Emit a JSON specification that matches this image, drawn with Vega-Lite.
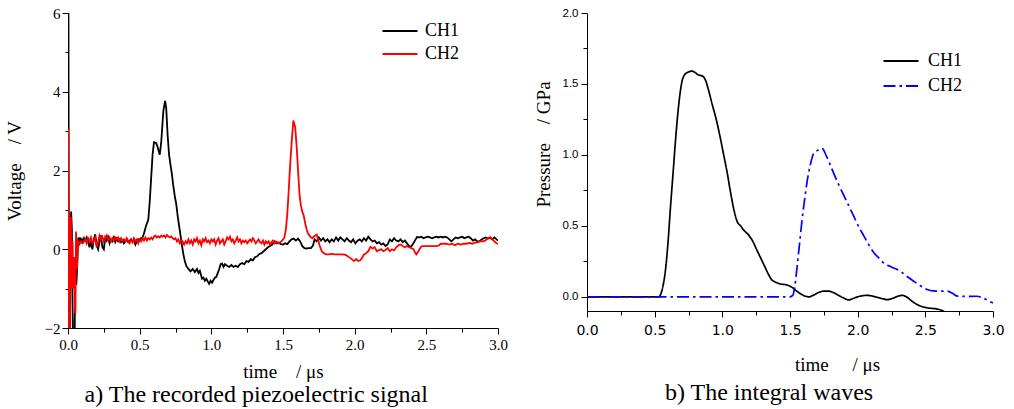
{
  "$schema": "https://vega.github.io/schema/vega-lite/v6.json",
  "padding": {"left": 5, "top": 6, "right": 2, "bottom": 0},
  "spacing": 26,
  "resolve": {"scale": {"color": "independent", "strokeDash": "independent"}, "legend": {"color": "independent", "strokeDash": "independent"}},
  "config": {
    "view": {"stroke": null},
    "font": "Liberation Serif",
    "axis": {"grid": false, "domainColor": "#000", "tickColor": "#000", "labelColor": "#000", "titleColor": "#000", "titleFontWeight": "normal", "domainWidth": 1, "tickWidth": 1}
  },
  "datasets": {
    "a": [
      {"t":0.000,"v":0.2,"ch":"CH1"},{"t":0.003,"v":6.5,"ch":"CH1"},{"t":0.007,"v":-2.5,"ch":"CH1"},{"t":0.012,"v":-2.5,"ch":"CH1"},{"t":0.016,"v":0.5,"ch":"CH1"},{"t":0.022,"v":0.96,"ch":"CH1"},{"t":0.027,"v":0.5,"ch":"CH1"},{"t":0.030,"v":-1.0,"ch":"CH1"},{"t":0.036,"v":-2.5,"ch":"CH1"},{"t":0.046,"v":-2.5,"ch":"CH1"},{"t":0.050,"v":-0.5,"ch":"CH1"},{"t":0.058,"v":-0.9,"ch":"CH1"},{"t":0.063,"v":-0.56,"ch":"CH1"},{"t":0.068,"v":0.0,"ch":"CH1"},{"t":0.072,"v":0.3,"ch":"CH1"},{"t":0.078,"v":0.1,"ch":"CH1"},{"t":0.083,"v":0.3,"ch":"CH1"},{"t":0.090,"v":0.2,"ch":"CH1"},{"t":0.097,"v":0.25,"ch":"CH1"},{"t":0.105,"v":0.15,"ch":"CH1"},{"t":0.112,"v":0.28,"ch":"CH1"},{"t":0.12,"v":0.22,"ch":"CH1"},{"t":0.13,"v":0.3,"ch":"CH1"},{"t":0.14,"v":0.2,"ch":"CH1"},{"t":0.15,"v":0.05,"ch":"CH1"},{"t":0.16,"v":0.2,"ch":"CH1"},{"t":0.17,"v":0.0,"ch":"CH1"},{"t":0.18,"v":0.25,"ch":"CH1"},{"t":0.19,"v":0.38,"ch":"CH1"},{"t":0.20,"v":0.1,"ch":"CH1"},{"t":0.21,"v":0.0,"ch":"CH1"},{"t":0.22,"v":0.2,"ch":"CH1"},{"t":0.23,"v":0.35,"ch":"CH1"},{"t":0.24,"v":0.05,"ch":"CH1"},{"t":0.25,"v":0.0,"ch":"CH1"},{"t":0.26,"v":0.3,"ch":"CH1"},{"t":0.27,"v":0.22,"ch":"CH1"},{"t":0.28,"v":0.35,"ch":"CH1"},{"t":0.29,"v":0.15,"ch":"CH1"},{"t":0.30,"v":0.25,"ch":"CH1"},{"t":0.31,"v":0.2,"ch":"CH1"},{"t":0.32,"v":0.3,"ch":"CH1"},{"t":0.33,"v":0.18,"ch":"CH1"},{"t":0.34,"v":0.27,"ch":"CH1"},{"t":0.35,"v":0.2,"ch":"CH1"},{"t":0.36,"v":0.25,"ch":"CH1"},{"t":0.37,"v":0.18,"ch":"CH1"},{"t":0.38,"v":0.22,"ch":"CH1"},{"t":0.39,"v":0.15,"ch":"CH1"},{"t":0.40,"v":0.2,"ch":"CH1"},{"t":0.41,"v":0.25,"ch":"CH1"},{"t":0.42,"v":0.18,"ch":"CH1"},{"t":0.43,"v":0.22,"ch":"CH1"},{"t":0.44,"v":0.25,"ch":"CH1"},{"t":0.45,"v":0.2,"ch":"CH1"},{"t":0.46,"v":0.22,"ch":"CH1"},{"t":0.47,"v":0.12,"ch":"CH1"},{"t":0.48,"v":0.2,"ch":"CH1"},{"t":0.49,"v":0.25,"ch":"CH1"},{"t":0.50,"v":0.22,"ch":"CH1"},{"t":0.51,"v":0.28,"ch":"CH1"},{"t":0.52,"v":0.3,"ch":"CH1"},{"t":0.53,"v":0.4,"ch":"CH1"},{"t":0.545,"v":0.6,"ch":"CH1"},{"t":0.56,"v":0.75,"ch":"CH1"},{"t":0.57,"v":1.2,"ch":"CH1"},{"t":0.58,"v":1.8,"ch":"CH1"},{"t":0.59,"v":2.4,"ch":"CH1"},{"t":0.60,"v":2.72,"ch":"CH1"},{"t":0.615,"v":2.7,"ch":"CH1"},{"t":0.625,"v":2.6,"ch":"CH1"},{"t":0.64,"v":2.4,"ch":"CH1"},{"t":0.65,"v":2.7,"ch":"CH1"},{"t":0.665,"v":3.5,"ch":"CH1"},{"t":0.677,"v":3.77,"ch":"CH1"},{"t":0.685,"v":3.6,"ch":"CH1"},{"t":0.695,"v":2.9,"ch":"CH1"},{"t":0.705,"v":2.4,"ch":"CH1"},{"t":0.715,"v":2.15,"ch":"CH1"},{"t":0.725,"v":1.9,"ch":"CH1"},{"t":0.735,"v":1.6,"ch":"CH1"},{"t":0.745,"v":1.35,"ch":"CH1"},{"t":0.755,"v":1.15,"ch":"CH1"},{"t":0.765,"v":0.85,"ch":"CH1"},{"t":0.775,"v":0.6,"ch":"CH1"},{"t":0.785,"v":0.35,"ch":"CH1"},{"t":0.795,"v":0.1,"ch":"CH1"},{"t":0.805,"v":-0.13,"ch":"CH1"},{"t":0.815,"v":-0.3,"ch":"CH1"},{"t":0.825,"v":-0.42,"ch":"CH1"},{"t":0.84,"v":-0.5,"ch":"CH1"},{"t":0.855,"v":-0.56,"ch":"CH1"},{"t":0.87,"v":-0.5,"ch":"CH1"},{"t":0.885,"v":-0.58,"ch":"CH1"},{"t":0.90,"v":-0.5,"ch":"CH1"},{"t":0.91,"v":-0.6,"ch":"CH1"},{"t":0.92,"v":-0.55,"ch":"CH1"},{"t":0.935,"v":-0.75,"ch":"CH1"},{"t":0.945,"v":-0.72,"ch":"CH1"},{"t":0.955,"v":-0.8,"ch":"CH1"},{"t":0.965,"v":-0.75,"ch":"CH1"},{"t":0.975,"v":-0.82,"ch":"CH1"},{"t":0.985,"v":-0.88,"ch":"CH1"},{"t":0.995,"v":-0.8,"ch":"CH1"},{"t":1.005,"v":-0.85,"ch":"CH1"},{"t":1.015,"v":-0.78,"ch":"CH1"},{"t":1.025,"v":-0.72,"ch":"CH1"},{"t":1.035,"v":-0.7,"ch":"CH1"},{"t":1.045,"v":-0.6,"ch":"CH1"},{"t":1.055,"v":-0.5,"ch":"CH1"},{"t":1.065,"v":-0.38,"ch":"CH1"},{"t":1.075,"v":-0.36,"ch":"CH1"},{"t":1.085,"v":-0.45,"ch":"CH1"},{"t":1.095,"v":-0.38,"ch":"CH1"},{"t":1.11,"v":-0.42,"ch":"CH1"},{"t":1.125,"v":-0.45,"ch":"CH1"},{"t":1.14,"v":-0.4,"ch":"CH1"},{"t":1.155,"v":-0.45,"ch":"CH1"},{"t":1.17,"v":-0.42,"ch":"CH1"},{"t":1.185,"v":-0.45,"ch":"CH1"},{"t":1.20,"v":-0.38,"ch":"CH1"},{"t":1.215,"v":-0.35,"ch":"CH1"},{"t":1.23,"v":-0.38,"ch":"CH1"},{"t":1.245,"v":-0.3,"ch":"CH1"},{"t":1.26,"v":-0.32,"ch":"CH1"},{"t":1.275,"v":-0.25,"ch":"CH1"},{"t":1.29,"v":-0.28,"ch":"CH1"},{"t":1.305,"v":-0.2,"ch":"CH1"},{"t":1.32,"v":-0.18,"ch":"CH1"},{"t":1.335,"v":-0.12,"ch":"CH1"},{"t":1.35,"v":-0.1,"ch":"CH1"},{"t":1.365,"v":-0.05,"ch":"CH1"},{"t":1.38,"v":0.0,"ch":"CH1"},{"t":1.395,"v":0.05,"ch":"CH1"},{"t":1.41,"v":0.08,"ch":"CH1"},{"t":1.425,"v":0.12,"ch":"CH1"},{"t":1.44,"v":0.2,"ch":"CH1"},{"t":1.455,"v":0.15,"ch":"CH1"},{"t":1.47,"v":0.17,"ch":"CH1"},{"t":1.485,"v":0.13,"ch":"CH1"},{"t":1.50,"v":0.12,"ch":"CH1"},{"t":1.515,"v":0.15,"ch":"CH1"},{"t":1.53,"v":0.13,"ch":"CH1"},{"t":1.545,"v":0.2,"ch":"CH1"},{"t":1.56,"v":0.25,"ch":"CH1"},{"t":1.575,"v":0.27,"ch":"CH1"},{"t":1.59,"v":0.22,"ch":"CH1"},{"t":1.605,"v":0.27,"ch":"CH1"},{"t":1.62,"v":0.2,"ch":"CH1"},{"t":1.635,"v":0.08,"ch":"CH1"},{"t":1.65,"v":0.03,"ch":"CH1"},{"t":1.665,"v":0.02,"ch":"CH1"},{"t":1.68,"v":0.03,"ch":"CH1"},{"t":1.695,"v":0.03,"ch":"CH1"},{"t":1.71,"v":0.1,"ch":"CH1"},{"t":1.72,"v":0.25,"ch":"CH1"},{"t":1.735,"v":0.2,"ch":"CH1"},{"t":1.75,"v":0.3,"ch":"CH1"},{"t":1.765,"v":0.22,"ch":"CH1"},{"t":1.78,"v":0.28,"ch":"CH1"},{"t":1.795,"v":0.2,"ch":"CH1"},{"t":1.81,"v":0.25,"ch":"CH1"},{"t":1.825,"v":0.18,"ch":"CH1"},{"t":1.84,"v":0.25,"ch":"CH1"},{"t":1.855,"v":0.2,"ch":"CH1"},{"t":1.87,"v":0.3,"ch":"CH1"},{"t":1.885,"v":0.22,"ch":"CH1"},{"t":1.90,"v":0.3,"ch":"CH1"},{"t":1.915,"v":0.25,"ch":"CH1"},{"t":1.93,"v":0.2,"ch":"CH1"},{"t":1.945,"v":0.28,"ch":"CH1"},{"t":1.96,"v":0.22,"ch":"CH1"},{"t":1.975,"v":0.18,"ch":"CH1"},{"t":1.99,"v":0.25,"ch":"CH1"},{"t":2.005,"v":0.15,"ch":"CH1"},{"t":2.02,"v":0.22,"ch":"CH1"},{"t":2.035,"v":0.25,"ch":"CH1"},{"t":2.05,"v":0.2,"ch":"CH1"},{"t":2.065,"v":0.28,"ch":"CH1"},{"t":2.08,"v":0.22,"ch":"CH1"},{"t":2.095,"v":0.32,"ch":"CH1"},{"t":2.11,"v":0.25,"ch":"CH1"},{"t":2.125,"v":0.2,"ch":"CH1"},{"t":2.14,"v":0.22,"ch":"CH1"},{"t":2.155,"v":0.15,"ch":"CH1"},{"t":2.17,"v":0.18,"ch":"CH1"},{"t":2.185,"v":0.12,"ch":"CH1"},{"t":2.20,"v":0.15,"ch":"CH1"},{"t":2.215,"v":0.08,"ch":"CH1"},{"t":2.23,"v":0.12,"ch":"CH1"},{"t":2.245,"v":0.25,"ch":"CH1"},{"t":2.26,"v":0.2,"ch":"CH1"},{"t":2.275,"v":0.28,"ch":"CH1"},{"t":2.29,"v":0.22,"ch":"CH1"},{"t":2.305,"v":0.2,"ch":"CH1"},{"t":2.32,"v":0.25,"ch":"CH1"},{"t":2.335,"v":0.18,"ch":"CH1"},{"t":2.35,"v":0.22,"ch":"CH1"},{"t":2.365,"v":0.15,"ch":"CH1"},{"t":2.38,"v":0.08,"ch":"CH1"},{"t":2.395,"v":0.07,"ch":"CH1"},{"t":2.41,"v":0.15,"ch":"CH1"},{"t":2.425,"v":0.25,"ch":"CH1"},{"t":2.435,"v":0.31,"ch":"CH1"},{"t":2.45,"v":0.3,"ch":"CH1"},{"t":2.465,"v":0.32,"ch":"CH1"},{"t":2.48,"v":0.28,"ch":"CH1"},{"t":2.495,"v":0.3,"ch":"CH1"},{"t":2.51,"v":0.32,"ch":"CH1"},{"t":2.525,"v":0.3,"ch":"CH1"},{"t":2.54,"v":0.28,"ch":"CH1"},{"t":2.555,"v":0.3,"ch":"CH1"},{"t":2.57,"v":0.32,"ch":"CH1"},{"t":2.585,"v":0.3,"ch":"CH1"},{"t":2.60,"v":0.32,"ch":"CH1"},{"t":2.615,"v":0.3,"ch":"CH1"},{"t":2.63,"v":0.32,"ch":"CH1"},{"t":2.645,"v":0.3,"ch":"CH1"},{"t":2.66,"v":0.25,"ch":"CH1"},{"t":2.675,"v":0.2,"ch":"CH1"},{"t":2.69,"v":0.25,"ch":"CH1"},{"t":2.705,"v":0.3,"ch":"CH1"},{"t":2.72,"v":0.28,"ch":"CH1"},{"t":2.735,"v":0.3,"ch":"CH1"},{"t":2.75,"v":0.32,"ch":"CH1"},{"t":2.765,"v":0.28,"ch":"CH1"},{"t":2.78,"v":0.3,"ch":"CH1"},{"t":2.795,"v":0.32,"ch":"CH1"},{"t":2.81,"v":0.28,"ch":"CH1"},{"t":2.825,"v":0.22,"ch":"CH1"},{"t":2.84,"v":0.25,"ch":"CH1"},{"t":2.855,"v":0.2,"ch":"CH1"},{"t":2.87,"v":0.2,"ch":"CH1"},{"t":2.885,"v":0.25,"ch":"CH1"},{"t":2.90,"v":0.28,"ch":"CH1"},{"t":2.915,"v":0.3,"ch":"CH1"},{"t":2.93,"v":0.27,"ch":"CH1"},{"t":2.945,"v":0.29,"ch":"CH1"},{"t":2.96,"v":0.25,"ch":"CH1"},{"t":2.975,"v":0.3,"ch":"CH1"},{"t":2.99,"v":0.25,"ch":"CH1"},{"t":3.0,"v":0.22,"ch":"CH1"},
      {"t":0.000,"v":0.0,"ch":"CH2"},{"t":0.002,"v":3.05,"ch":"CH2"},{"t":0.005,"v":-2.5,"ch":"CH2"},{"t":0.012,"v":-2.5,"ch":"CH2"},{"t":0.016,"v":0.8,"ch":"CH2"},{"t":0.020,"v":0.8,"ch":"CH2"},{"t":0.026,"v":-1.0,"ch":"CH2"},{"t":0.032,"v":0.2,"ch":"CH2"},{"t":0.036,"v":-1.0,"ch":"CH2"},{"t":0.042,"v":-0.2,"ch":"CH2"},{"t":0.048,"v":-1.6,"ch":"CH2"},{"t":0.052,"v":-1.6,"ch":"CH2"},{"t":0.056,"v":0.45,"ch":"CH2"},{"t":0.062,"v":-0.5,"ch":"CH2"},{"t":0.068,"v":0.0,"ch":"CH2"},{"t":0.072,"v":0.2,"ch":"CH2"},{"t":0.08,"v":0.15,"ch":"CH2"},{"t":0.09,"v":0.2,"ch":"CH2"},{"t":0.10,"v":0.15,"ch":"CH2"},{"t":0.11,"v":0.2,"ch":"CH2"},{"t":0.12,"v":0.25,"ch":"CH2"},{"t":0.13,"v":0.15,"ch":"CH2"},{"t":0.14,"v":0.28,"ch":"CH2"},{"t":0.15,"v":0.2,"ch":"CH2"},{"t":0.16,"v":0.3,"ch":"CH2"},{"t":0.17,"v":0.15,"ch":"CH2"},{"t":0.18,"v":0.22,"ch":"CH2"},{"t":0.19,"v":0.3,"ch":"CH2"},{"t":0.20,"v":0.05,"ch":"CH2"},{"t":0.21,"v":0.2,"ch":"CH2"},{"t":0.22,"v":0.35,"ch":"CH2"},{"t":0.23,"v":0.25,"ch":"CH2"},{"t":0.24,"v":0.32,"ch":"CH2"},{"t":0.25,"v":0.2,"ch":"CH2"},{"t":0.26,"v":0.28,"ch":"CH2"},{"t":0.27,"v":0.35,"ch":"CH2"},{"t":0.28,"v":0.25,"ch":"CH2"},{"t":0.29,"v":0.3,"ch":"CH2"},{"t":0.30,"v":0.2,"ch":"CH2"},{"t":0.31,"v":0.28,"ch":"CH2"},{"t":0.32,"v":0.22,"ch":"CH2"},{"t":0.33,"v":0.3,"ch":"CH2"},{"t":0.34,"v":0.25,"ch":"CH2"},{"t":0.35,"v":0.3,"ch":"CH2"},{"t":0.36,"v":0.2,"ch":"CH2"},{"t":0.37,"v":0.28,"ch":"CH2"},{"t":0.38,"v":0.22,"ch":"CH2"},{"t":0.39,"v":0.25,"ch":"CH2"},{"t":0.40,"v":0.2,"ch":"CH2"},{"t":0.41,"v":0.28,"ch":"CH2"},{"t":0.42,"v":0.2,"ch":"CH2"},{"t":0.43,"v":0.15,"ch":"CH2"},{"t":0.44,"v":0.25,"ch":"CH2"},{"t":0.45,"v":0.18,"ch":"CH2"},{"t":0.46,"v":0.28,"ch":"CH2"},{"t":0.47,"v":0.2,"ch":"CH2"},{"t":0.48,"v":0.25,"ch":"CH2"},{"t":0.49,"v":0.15,"ch":"CH2"},{"t":0.50,"v":0.25,"ch":"CH2"},{"t":0.51,"v":0.2,"ch":"CH2"},{"t":0.52,"v":0.28,"ch":"CH2"},{"t":0.53,"v":0.22,"ch":"CH2"},{"t":0.54,"v":0.3,"ch":"CH2"},{"t":0.55,"v":0.22,"ch":"CH2"},{"t":0.56,"v":0.28,"ch":"CH2"},{"t":0.57,"v":0.25,"ch":"CH2"},{"t":0.58,"v":0.3,"ch":"CH2"},{"t":0.59,"v":0.25,"ch":"CH2"},{"t":0.60,"v":0.32,"ch":"CH2"},{"t":0.61,"v":0.35,"ch":"CH2"},{"t":0.62,"v":0.3,"ch":"CH2"},{"t":0.63,"v":0.33,"ch":"CH2"},{"t":0.64,"v":0.3,"ch":"CH2"},{"t":0.65,"v":0.35,"ch":"CH2"},{"t":0.66,"v":0.32,"ch":"CH2"},{"t":0.67,"v":0.35,"ch":"CH2"},{"t":0.68,"v":0.3,"ch":"CH2"},{"t":0.69,"v":0.36,"ch":"CH2"},{"t":0.70,"v":0.32,"ch":"CH2"},{"t":0.71,"v":0.3,"ch":"CH2"},{"t":0.72,"v":0.33,"ch":"CH2"},{"t":0.73,"v":0.28,"ch":"CH2"},{"t":0.74,"v":0.25,"ch":"CH2"},{"t":0.75,"v":0.28,"ch":"CH2"},{"t":0.76,"v":0.2,"ch":"CH2"},{"t":0.77,"v":0.25,"ch":"CH2"},{"t":0.78,"v":0.15,"ch":"CH2"},{"t":0.79,"v":0.22,"ch":"CH2"},{"t":0.80,"v":0.2,"ch":"CH2"},{"t":0.81,"v":0.12,"ch":"CH2"},{"t":0.82,"v":0.2,"ch":"CH2"},{"t":0.83,"v":0.15,"ch":"CH2"},{"t":0.84,"v":0.25,"ch":"CH2"},{"t":0.85,"v":0.15,"ch":"CH2"},{"t":0.86,"v":0.22,"ch":"CH2"},{"t":0.87,"v":0.12,"ch":"CH2"},{"t":0.88,"v":0.25,"ch":"CH2"},{"t":0.89,"v":0.2,"ch":"CH2"},{"t":0.90,"v":0.28,"ch":"CH2"},{"t":0.91,"v":0.15,"ch":"CH2"},{"t":0.92,"v":0.22,"ch":"CH2"},{"t":0.93,"v":0.1,"ch":"CH2"},{"t":0.94,"v":0.25,"ch":"CH2"},{"t":0.95,"v":0.2,"ch":"CH2"},{"t":0.96,"v":0.28,"ch":"CH2"},{"t":0.97,"v":0.18,"ch":"CH2"},{"t":0.98,"v":0.22,"ch":"CH2"},{"t":0.99,"v":0.15,"ch":"CH2"},{"t":1.00,"v":0.25,"ch":"CH2"},{"t":1.01,"v":0.2,"ch":"CH2"},{"t":1.02,"v":0.25,"ch":"CH2"},{"t":1.03,"v":0.12,"ch":"CH2"},{"t":1.04,"v":0.22,"ch":"CH2"},{"t":1.05,"v":0.28,"ch":"CH2"},{"t":1.06,"v":0.15,"ch":"CH2"},{"t":1.07,"v":0.2,"ch":"CH2"},{"t":1.08,"v":0.25,"ch":"CH2"},{"t":1.09,"v":0.12,"ch":"CH2"},{"t":1.10,"v":0.2,"ch":"CH2"},{"t":1.11,"v":0.3,"ch":"CH2"},{"t":1.12,"v":0.25,"ch":"CH2"},{"t":1.13,"v":0.32,"ch":"CH2"},{"t":1.14,"v":0.2,"ch":"CH2"},{"t":1.15,"v":0.25,"ch":"CH2"},{"t":1.16,"v":0.15,"ch":"CH2"},{"t":1.17,"v":0.22,"ch":"CH2"},{"t":1.18,"v":0.3,"ch":"CH2"},{"t":1.19,"v":0.2,"ch":"CH2"},{"t":1.20,"v":0.25,"ch":"CH2"},{"t":1.21,"v":0.15,"ch":"CH2"},{"t":1.22,"v":0.22,"ch":"CH2"},{"t":1.23,"v":0.18,"ch":"CH2"},{"t":1.24,"v":0.22,"ch":"CH2"},{"t":1.25,"v":0.15,"ch":"CH2"},{"t":1.26,"v":0.2,"ch":"CH2"},{"t":1.27,"v":0.25,"ch":"CH2"},{"t":1.28,"v":0.2,"ch":"CH2"},{"t":1.29,"v":0.28,"ch":"CH2"},{"t":1.30,"v":0.22,"ch":"CH2"},{"t":1.31,"v":0.15,"ch":"CH2"},{"t":1.32,"v":0.2,"ch":"CH2"},{"t":1.33,"v":0.25,"ch":"CH2"},{"t":1.34,"v":0.18,"ch":"CH2"},{"t":1.35,"v":0.15,"ch":"CH2"},{"t":1.36,"v":0.22,"ch":"CH2"},{"t":1.37,"v":0.12,"ch":"CH2"},{"t":1.38,"v":0.2,"ch":"CH2"},{"t":1.39,"v":0.15,"ch":"CH2"},{"t":1.40,"v":0.2,"ch":"CH2"},{"t":1.41,"v":0.12,"ch":"CH2"},{"t":1.42,"v":0.18,"ch":"CH2"},{"t":1.43,"v":0.22,"ch":"CH2"},{"t":1.44,"v":0.15,"ch":"CH2"},{"t":1.45,"v":0.2,"ch":"CH2"},{"t":1.46,"v":0.18,"ch":"CH2"},{"t":1.47,"v":0.15,"ch":"CH2"},{"t":1.48,"v":0.18,"ch":"CH2"},{"t":1.49,"v":0.2,"ch":"CH2"},{"t":1.50,"v":0.25,"ch":"CH2"},{"t":1.51,"v":0.3,"ch":"CH2"},{"t":1.52,"v":0.5,"ch":"CH2"},{"t":1.53,"v":0.9,"ch":"CH2"},{"t":1.54,"v":1.5,"ch":"CH2"},{"t":1.55,"v":2.15,"ch":"CH2"},{"t":1.56,"v":2.7,"ch":"CH2"},{"t":1.572,"v":3.27,"ch":"CH2"},{"t":1.585,"v":3.1,"ch":"CH2"},{"t":1.596,"v":2.57,"ch":"CH2"},{"t":1.605,"v":2.0,"ch":"CH2"},{"t":1.615,"v":1.4,"ch":"CH2"},{"t":1.625,"v":1.1,"ch":"CH2"},{"t":1.635,"v":0.95,"ch":"CH2"},{"t":1.645,"v":0.85,"ch":"CH2"},{"t":1.655,"v":0.65,"ch":"CH2"},{"t":1.665,"v":0.5,"ch":"CH2"},{"t":1.675,"v":0.4,"ch":"CH2"},{"t":1.685,"v":0.35,"ch":"CH2"},{"t":1.695,"v":0.3,"ch":"CH2"},{"t":1.705,"v":0.28,"ch":"CH2"},{"t":1.715,"v":0.32,"ch":"CH2"},{"t":1.725,"v":0.35,"ch":"CH2"},{"t":1.735,"v":0.37,"ch":"CH2"},{"t":1.745,"v":0.25,"ch":"CH2"},{"t":1.755,"v":0.1,"ch":"CH2"},{"t":1.77,"v":-0.05,"ch":"CH2"},{"t":1.785,"v":-0.1,"ch":"CH2"},{"t":1.80,"v":-0.13,"ch":"CH2"},{"t":1.82,"v":-0.13,"ch":"CH2"},{"t":1.84,"v":-0.12,"ch":"CH2"},{"t":1.86,"v":-0.13,"ch":"CH2"},{"t":1.88,"v":-0.13,"ch":"CH2"},{"t":1.90,"v":-0.13,"ch":"CH2"},{"t":1.92,"v":-0.13,"ch":"CH2"},{"t":1.94,"v":-0.15,"ch":"CH2"},{"t":1.96,"v":-0.2,"ch":"CH2"},{"t":1.98,"v":-0.25,"ch":"CH2"},{"t":1.995,"v":-0.3,"ch":"CH2"},{"t":2.01,"v":-0.25,"ch":"CH2"},{"t":2.025,"v":-0.3,"ch":"CH2"},{"t":2.04,"v":-0.28,"ch":"CH2"},{"t":2.055,"v":-0.2,"ch":"CH2"},{"t":2.065,"v":-0.13,"ch":"CH2"},{"t":2.08,"v":-0.1,"ch":"CH2"},{"t":2.095,"v":-0.05,"ch":"CH2"},{"t":2.11,"v":0.06,"ch":"CH2"},{"t":2.125,"v":0.02,"ch":"CH2"},{"t":2.14,"v":0.05,"ch":"CH2"},{"t":2.155,"v":-0.05,"ch":"CH2"},{"t":2.17,"v":-0.02,"ch":"CH2"},{"t":2.185,"v":0.0,"ch":"CH2"},{"t":2.20,"v":-0.05,"ch":"CH2"},{"t":2.215,"v":-0.02,"ch":"CH2"},{"t":2.23,"v":0.03,"ch":"CH2"},{"t":2.245,"v":-0.05,"ch":"CH2"},{"t":2.26,"v":0.0,"ch":"CH2"},{"t":2.275,"v":-0.03,"ch":"CH2"},{"t":2.29,"v":0.05,"ch":"CH2"},{"t":2.305,"v":0.1,"ch":"CH2"},{"t":2.32,"v":0.12,"ch":"CH2"},{"t":2.335,"v":0.08,"ch":"CH2"},{"t":2.35,"v":0.05,"ch":"CH2"},{"t":2.365,"v":0.08,"ch":"CH2"},{"t":2.38,"v":0.05,"ch":"CH2"},{"t":2.395,"v":0.03,"ch":"CH2"},{"t":2.41,"v":0.0,"ch":"CH2"},{"t":2.42,"v":-0.08,"ch":"CH2"},{"t":2.43,"v":-0.13,"ch":"CH2"},{"t":2.445,"v":-0.05,"ch":"CH2"},{"t":2.46,"v":0.05,"ch":"CH2"},{"t":2.47,"v":0.08,"ch":"CH2"},{"t":2.49,"v":0.08,"ch":"CH2"},{"t":2.51,"v":0.08,"ch":"CH2"},{"t":2.53,"v":0.08,"ch":"CH2"},{"t":2.55,"v":0.08,"ch":"CH2"},{"t":2.57,"v":0.08,"ch":"CH2"},{"t":2.59,"v":0.1,"ch":"CH2"},{"t":2.60,"v":0.14,"ch":"CH2"},{"t":2.62,"v":0.14,"ch":"CH2"},{"t":2.64,"v":0.14,"ch":"CH2"},{"t":2.66,"v":0.12,"ch":"CH2"},{"t":2.68,"v":0.14,"ch":"CH2"},{"t":2.70,"v":0.1,"ch":"CH2"},{"t":2.72,"v":0.14,"ch":"CH2"},{"t":2.74,"v":0.12,"ch":"CH2"},{"t":2.76,"v":0.14,"ch":"CH2"},{"t":2.78,"v":0.14,"ch":"CH2"},{"t":2.80,"v":0.16,"ch":"CH2"},{"t":2.82,"v":0.14,"ch":"CH2"},{"t":2.84,"v":0.17,"ch":"CH2"},{"t":2.86,"v":0.18,"ch":"CH2"},{"t":2.875,"v":0.2,"ch":"CH2"},{"t":2.89,"v":0.2,"ch":"CH2"},{"t":2.91,"v":0.22,"ch":"CH2"},{"t":2.93,"v":0.28,"ch":"CH2"},{"t":2.945,"v":0.31,"ch":"CH2"},{"t":2.96,"v":0.25,"ch":"CH2"},{"t":2.975,"v":0.2,"ch":"CH2"},{"t":2.99,"v":0.15,"ch":"CH2"},{"t":3.0,"v":0.14,"ch":"CH2"}
    ],
    "b": [
      {"t":0,"p":0,"ch":"CH1"},{"t":0.53,"p":0,"ch":"CH1"},{"t":0.555,"p":0.05,"ch":"CH1"},{"t":0.58,"p":0.19,"ch":"CH1"},{"t":0.6,"p":0.4,"ch":"CH1"},{"t":0.616,"p":0.62,"ch":"CH1"},{"t":0.635,"p":0.86,"ch":"CH1"},{"t":0.653,"p":1.09,"ch":"CH1"},{"t":0.67,"p":1.28,"ch":"CH1"},{"t":0.69,"p":1.45,"ch":"CH1"},{"t":0.705,"p":1.53,"ch":"CH1"},{"t":0.715,"p":1.555,"ch":"CH1"},{"t":0.74,"p":1.58,"ch":"CH1"},{"t":0.776,"p":1.59,"ch":"CH1"},{"t":0.8,"p":1.58,"ch":"CH1"},{"t":0.82,"p":1.565,"ch":"CH1"},{"t":0.837,"p":1.56,"ch":"CH1"},{"t":0.855,"p":1.555,"ch":"CH1"},{"t":0.874,"p":1.53,"ch":"CH1"},{"t":0.9,"p":1.45,"ch":"CH1"},{"t":0.924,"p":1.36,"ch":"CH1"},{"t":0.955,"p":1.25,"ch":"CH1"},{"t":0.985,"p":1.12,"ch":"CH1"},{"t":1.01,"p":1.0,"ch":"CH1"},{"t":1.035,"p":0.88,"ch":"CH1"},{"t":1.06,"p":0.74,"ch":"CH1"},{"t":1.084,"p":0.62,"ch":"CH1"},{"t":1.11,"p":0.53,"ch":"CH1"},{"t":1.135,"p":0.5,"ch":"CH1"},{"t":1.158,"p":0.47,"ch":"CH1"},{"t":1.19,"p":0.44,"ch":"CH1"},{"t":1.22,"p":0.4,"ch":"CH1"},{"t":1.255,"p":0.33,"ch":"CH1"},{"t":1.29,"p":0.26,"ch":"CH1"},{"t":1.315,"p":0.21,"ch":"CH1"},{"t":1.34,"p":0.16,"ch":"CH1"},{"t":1.365,"p":0.12,"ch":"CH1"},{"t":1.39,"p":0.105,"ch":"CH1"},{"t":1.43,"p":0.09,"ch":"CH1"},{"t":1.47,"p":0.085,"ch":"CH1"},{"t":1.5,"p":0.075,"ch":"CH1"},{"t":1.525,"p":0.06,"ch":"CH1"},{"t":1.55,"p":0.04,"ch":"CH1"},{"t":1.58,"p":0.02,"ch":"CH1"},{"t":1.61,"p":0.005,"ch":"CH1"},{"t":1.64,"p":0.0,"ch":"CH1"},{"t":1.67,"p":0.01,"ch":"CH1"},{"t":1.71,"p":0.03,"ch":"CH1"},{"t":1.75,"p":0.04,"ch":"CH1"},{"t":1.786,"p":0.04,"ch":"CH1"},{"t":1.82,"p":0.03,"ch":"CH1"},{"t":1.86,"p":0.01,"ch":"CH1"},{"t":1.9,"p":-0.01,"ch":"CH1"},{"t":1.934,"p":-0.022,"ch":"CH1"},{"t":1.97,"p":-0.01,"ch":"CH1"},{"t":2.0,"p":0.0,"ch":"CH1"},{"t":2.04,"p":0.008,"ch":"CH1"},{"t":2.07,"p":0.01,"ch":"CH1"},{"t":2.11,"p":0.005,"ch":"CH1"},{"t":2.15,"p":-0.005,"ch":"CH1"},{"t":2.19,"p":-0.015,"ch":"CH1"},{"t":2.217,"p":-0.02,"ch":"CH1"},{"t":2.26,"p":-0.01,"ch":"CH1"},{"t":2.3,"p":0.005,"ch":"CH1"},{"t":2.33,"p":0.01,"ch":"CH1"},{"t":2.36,"p":0.0,"ch":"CH1"},{"t":2.4,"p":-0.03,"ch":"CH1"},{"t":2.44,"p":-0.055,"ch":"CH1"},{"t":2.48,"p":-0.07,"ch":"CH1"},{"t":2.53,"p":-0.08,"ch":"CH1"},{"t":2.58,"p":-0.085,"ch":"CH1"},{"t":2.62,"p":-0.095,"ch":"CH1"},{"t":2.65,"p":-0.11,"ch":"CH1"},
      {"t":0,"p":0,"ch":"CH2"},{"t":1.5,"p":0,"ch":"CH2"},{"t":1.52,"p":0.01,"ch":"CH2"},{"t":1.535,"p":0.07,"ch":"CH2"},{"t":1.55,"p":0.19,"ch":"CH2"},{"t":1.57,"p":0.37,"ch":"CH2"},{"t":1.59,"p":0.55,"ch":"CH2"},{"t":1.61,"p":0.7,"ch":"CH2"},{"t":1.626,"p":0.81,"ch":"CH2"},{"t":1.65,"p":0.93,"ch":"CH2"},{"t":1.675,"p":1.01,"ch":"CH2"},{"t":1.70,"p":1.03,"ch":"CH2"},{"t":1.737,"p":1.046,"ch":"CH2"},{"t":1.77,"p":0.99,"ch":"CH2"},{"t":1.81,"p":0.9,"ch":"CH2"},{"t":1.85,"p":0.81,"ch":"CH2"},{"t":1.885,"p":0.74,"ch":"CH2"},{"t":1.93,"p":0.65,"ch":"CH2"},{"t":1.97,"p":0.57,"ch":"CH2"},{"t":2.01,"p":0.49,"ch":"CH2"},{"t":2.045,"p":0.43,"ch":"CH2"},{"t":2.08,"p":0.37,"ch":"CH2"},{"t":2.12,"p":0.31,"ch":"CH2"},{"t":2.16,"p":0.27,"ch":"CH2"},{"t":2.19,"p":0.24,"ch":"CH2"},{"t":2.25,"p":0.21,"ch":"CH2"},{"t":2.316,"p":0.18,"ch":"CH2"},{"t":2.37,"p":0.14,"ch":"CH2"},{"t":2.414,"p":0.11,"ch":"CH2"},{"t":2.46,"p":0.08,"ch":"CH2"},{"t":2.513,"p":0.052,"ch":"CH2"},{"t":2.56,"p":0.042,"ch":"CH2"},{"t":2.61,"p":0.04,"ch":"CH2"},{"t":2.66,"p":0.04,"ch":"CH2"},{"t":2.70,"p":0.025,"ch":"CH2"},{"t":2.735,"p":0.005,"ch":"CH2"},{"t":2.8,"p":0.003,"ch":"CH2"},{"t":2.88,"p":0.004,"ch":"CH2"},{"t":2.93,"p":-0.01,"ch":"CH2"},{"t":2.97,"p":-0.03,"ch":"CH2"},{"t":3.0,"p":-0.043,"ch":"CH2"}
    ]
  },
  "hconcat": [
    {
      "width": 430,
      "height": 315,
      "data": {"name": "a"},
      "title": {"text": "a) The recorded piezoelectric signal", "orient": "bottom", "frame": "bounds", "anchor": "middle", "font": "Liberation Serif", "fontSize": 24, "fontWeight": "normal", "color": "#000", "offset": 2},
      "mark": {"type": "line", "strokeWidth": 1.8, "clip": true},
      "encoding": {
        "x": {
          "field": "t", "type": "quantitative",
          "scale": {"domain": [0, 3], "nice": false, "zero": false},
          "axis": {
            "title": "time\u00a0\u00a0\u00a0\u00a0/ μs", "titleFont": "Liberation Serif", "titleFontSize": 19, "titlePadding": 10,
            "values": [0,0.25,0.5,0.75,1,1.25,1.5,1.75,2,2.25,2.5,2.75,3],
            "labelExpr": "abs(datum.value*2 - round(datum.value*2)) < 0.001 ? format(datum.value, '.1f') : ''",
            "labelFont": "Liberation Serif", "labelFontSize": 15, "labelPadding": 3,
            "tickSize": {"condition": {"test": "abs(datum.value*2 - round(datum.value*2)) < 0.001", "value": 6}, "value": 4},
            "labelFlush": false, "labelOverlap": false
          }
        },
        "y": {
          "field": "v", "type": "quantitative",
          "scale": {"domain": [-2, 6], "nice": false, "zero": false},
          "axis": {
            "title": "Voltage\u00a0\u00a0\u00a0\u00a0/ V", "titleFont": "Liberation Serif", "titleFontSize": 19, "titlePadding": 20,
            "values": [-2,-1,0,1,2,3,4,5,6],
            "labelExpr": "datum.value % 2 === 0 ? format(datum.value, 'd') : ''",
            "labelFont": "Liberation Serif", "labelFontSize": 15, "labelPadding": 2,
            "tickSize": {"condition": {"test": "datum.value % 2 === 0", "value": 6}, "value": 3},
            "labelFlush": false, "labelOverlap": false
          }
        },
        "color": {
          "field": "ch", "type": "nominal",
          "scale": {"domain": ["CH1", "CH2"], "range": ["#000000", "#ff0000"]},
          "legend": {
            "title": null, "orient": "none", "legendX": 323, "legendY": 9, "padding": 0,
            "symbolType": "M-3.5,0H3.5", "symbolSize": 100, "symbolStrokeWidth": 2,
            "labelFont": "Liberation Serif", "labelFontSize": 18, "labelColor": "#000", "labelOffset": 16, "rowPadding": 5
          }
        }
      }
    },
    {
      "width": 406,
      "height": 298,
      "data": {"name": "b"},
      "title": {"text": "b) The integral waves", "orient": "bottom", "frame": "bounds", "anchor": "middle", "font": "Liberation Serif", "fontSize": 24, "fontWeight": "normal", "color": "#000", "offset": 7},
      "mark": {"type": "line", "strokeWidth": 1.7, "clip": true, "interpolate": "monotone"},
      "encoding": {
        "x": {
          "field": "t", "type": "quantitative",
          "scale": {"domain": [0, 3], "nice": false, "zero": false},
          "axis": {
            "title": "time\u00a0\u00a0\u00a0\u00a0\u00a0/ μs", "titleFont": "Liberation Serif", "titleFontSize": 19, "titlePadding": 18, "titleX": 250,
            "values": [0,0.25,0.5,0.75,1,1.25,1.5,1.75,2,2.25,2.5,2.75,3],
            "labelExpr": "abs(datum.value*2 - round(datum.value*2)) < 0.001 ? format(datum.value, '.1f') : ''",
            "labelFont": "DejaVu Sans", "labelFontSize": 14, "labelPadding": 6,
            "tickSize": {"condition": {"test": "abs(datum.value*2 - round(datum.value*2)) < 0.001", "value": 6}, "value": 4},
            "labelFlush": false, "labelOverlap": false
          }
        },
        "y": {
          "field": "p", "type": "quantitative",
          "scale": {"domain": [-0.1, 2.0], "nice": false, "zero": false},
          "axis": {
            "title": "Pressure\u00a0\u00a0\u00a0\u00a0/ GPa", "titleFont": "Liberation Serif", "titleFontSize": 19, "titlePadding": 9, "titleY": 131,
            "values": [0,0.25,0.5,0.75,1,1.25,1.5,1.75,2],
            "labelExpr": "abs(datum.value*2 - round(datum.value*2)) < 0.001 ? format(datum.value, '.1f') : ''",
            "labelFont": "Liberation Sans", "labelFontSize": 11.5, "labelPadding": 3,
            "tickSize": {"condition": {"test": "abs(datum.value*2 - round(datum.value*2)) < 0.001", "value": 6}, "value": 4},
            "labelFlush": false, "labelOverlap": false
          }
        },
        "color": {
          "field": "ch", "type": "nominal",
          "scale": {"domain": ["CH1", "CH2"], "range": ["#000000", "#0000ff"]},
          "legend": {
            "title": null, "orient": "none", "legendX": 305, "legendY": 39, "padding": 0,
            "symbolType": "M-3.5,0H3.5", "symbolSize": 100, "symbolStrokeWidth": 2,
            "labelFont": "Liberation Serif", "labelFontSize": 18, "labelColor": "#000", "labelOffset": 18, "rowPadding": 7
          }
        },
        "strokeDash": {
          "field": "ch", "type": "nominal",
          "scale": {"domain": ["CH1", "CH2"], "range": [[1, 0], [12, 4, 2.5, 4]]},
          "legend": {
            "title": null, "orient": "none", "legendX": 305, "legendY": 39, "padding": 0,
            "symbolType": "M-3.5,0H3.5", "symbolSize": 100, "symbolStrokeWidth": 2,
            "labelFont": "Liberation Serif", "labelFontSize": 18, "labelColor": "#000", "labelOffset": 18, "rowPadding": 7
          }
        }
      }
    }
  ]
}
